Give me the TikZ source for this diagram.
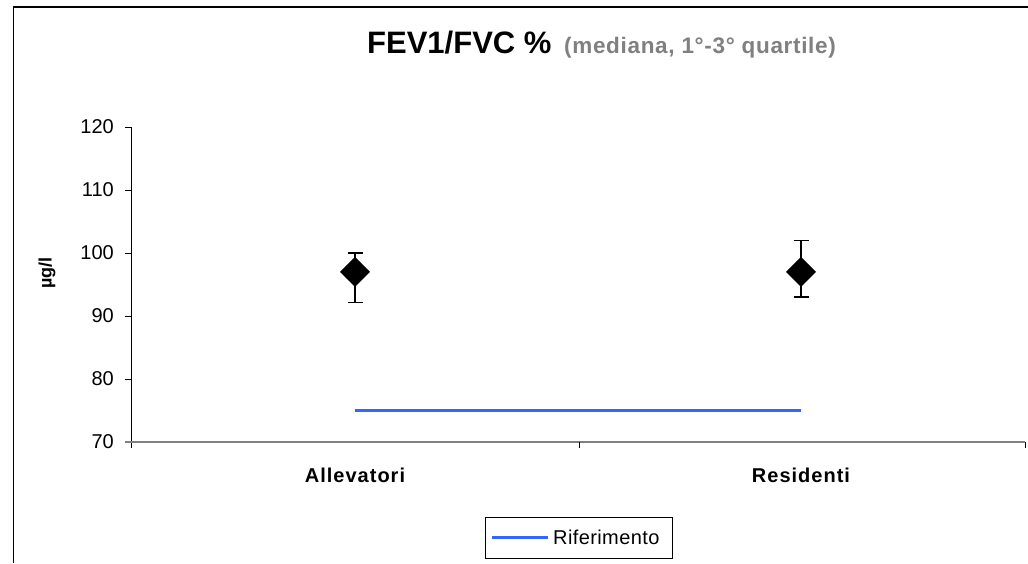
\documentclass[tikz,border=0pt]{standalone}
\usepackage{fontspec}
\setmainfont{Liberation Sans}
\newfontfamily\spacedA[LetterSpace=2]{Liberation Sans}
\newfontfamily\spacedB[LetterSpace=5]{Liberation Sans}
\newfontfamily\spacedC[LetterSpace=3]{Liberation Sans}
\usetikzlibrary{shapes.geometric}
\definecolor{refblue}{RGB}{51,102,255}
\definecolor{axgray}{RGB}{128,128,128}
\begin{document}
\begin{tikzpicture}[x=1pt,y=-1pt,
  ticklab/.style={anchor=east,font=\fontsize{20}{22}\selectfont,inner sep=0pt},
  catlab/.style={anchor=base,font=\spacedB\bfseries\fontsize{20}{22}\selectfont,inner sep=0pt},
  dmark/.style={diamond,fill=black,minimum width=30pt,minimum height=30pt,inner sep=0pt,aspect=1},
  errbar/.style={line width=1.5pt},
  refline/.style={line width=3pt,color=refblue},
  frameline/.style={line width=1.3pt,black},
]
\useasboundingbox (0,0) rectangle (1028,563);
% outer frame
\draw[frameline] (13.5,563) -- (13.5,7) -- (1028,7);
% title
\node[anchor=base west,inner sep=0pt,font=\fontsize{31}{33}\bfseries] (title) at (367,53) {FEV1/FVC \%};
\node[anchor=base west,inner sep=0pt,text=axgray,font=\spacedC\fontsize{22.5}{24}\bfseries] (subtitle) at (564,53) {(mediana, 1°-3° quartile)};
% y axis
\coordinate (ybot) at (131,448);
\coordinate (ytop) at (131,127);
\draw[line width=1pt] (ybot) -- (ytop);
\foreach \v/\yy in {120/127,110/190,100/253,90/316,80/379,70/442}{
  \coordinate (t\v) at (125,\yy);
  \draw[line width=1pt] (t\v) -- (131,\yy);
  \node[ticklab] (lab\v) at (114,\yy) {\v};
}
% x axis
\coordinate (xl) at (125,442);
\coordinate (xr) at (1025,442);
\draw[line width=2pt,axgray] (xl) -- (xr);
\foreach \xx/\n in {579/m,1025/r}{
  \draw[line width=1pt] (\xx,442) -- (\xx,448);
}
% axis label
\node[rotate=90,font=\bfseries\fontsize{18}{20}\selectfont] (ylab) at (47,273) {µg/l};
% category labels
\node[catlab] (catA) at (355,482) {Allevatori};
\node[catlab] (catR) at (801,482) {Residenti};
% reference line
\coordinate (refA) at (355,410.5);
\coordinate (refR) at (801,410.5);
\draw[refline] (refA) -- (refR);
% error bars
\coordinate (aTop) at (355,253);
\coordinate (aBot) at (355,302.4);
\coordinate (rTop) at (801,240.4);
\coordinate (rBot) at (801,297.1);
\draw[errbar] (aTop) -- (aBot);
\draw[errbar] ([xshift=-7.5pt]aTop) -- ([xshift=7.5pt]aTop);
\draw[errbar] ([xshift=-7.5pt]aBot) -- ([xshift=7.5pt]aBot);
\draw[errbar] (rTop) -- (rBot);
\draw[errbar] ([xshift=-7.5pt]rTop) -- ([xshift=7.5pt]rTop);
\draw[errbar] ([xshift=-7.5pt]rBot) -- ([xshift=7.5pt]rBot);
% markers
\node[dmark] (mA) at (355,271.9) {};
\node[dmark] (mR) at (801,271.9) {};
% legend
\node[draw=black,line width=0.8pt,minimum width=187pt,minimum height=41pt,inner sep=0pt] (legend) at (578.5,537.5) {};
\coordinate (legL) at (492,537);
\coordinate (legR) at (548,537);
\draw[refline] (legL) -- (legR);
\node[anchor=base west,inner sep=0pt,font=\spacedA\fontsize{20}{22}\selectfont] (legtext) at (553,544) {Riferimento};
\end{tikzpicture}
\end{document}
